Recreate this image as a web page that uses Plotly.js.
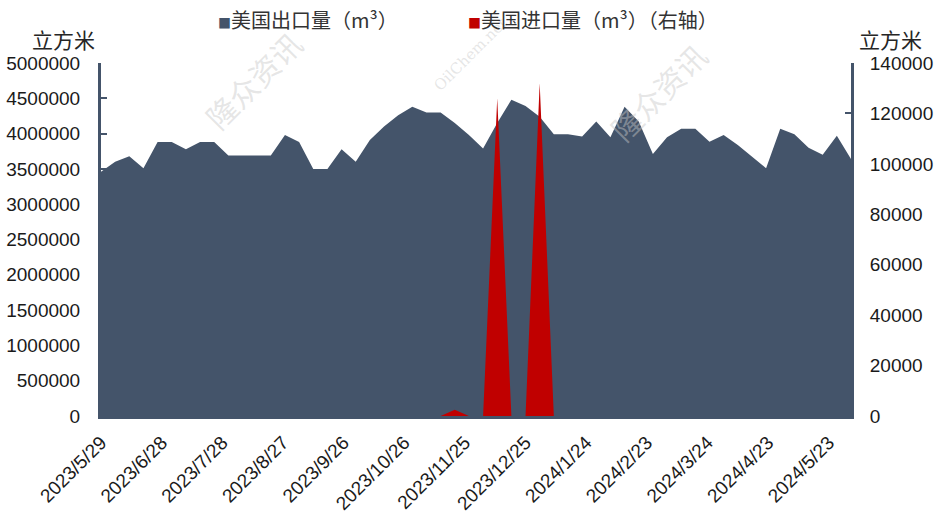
<!DOCTYPE html>
<html>
<head>
<meta charset="utf-8">
<script src="https://cdn.plot.ly/plotly-3.0.1.min.js"></script>
<style>html,body{margin:0;padding:0;background:#fff;}#chart{width:940px;height:531px;}</style>
</head>
<body>
<div id="chart"></div>
<script>
const dates = [
  "2023-05-29","2023-06-05","2023-06-12","2023-06-19","2023-06-26",
  "2023-07-03","2023-07-10","2023-07-17","2023-07-24","2023-07-31",
  "2023-08-07","2023-08-14","2023-08-21","2023-08-28",
  "2023-09-04","2023-09-11","2023-09-18","2023-09-25",
  "2023-10-02","2023-10-09","2023-10-16","2023-10-23","2023-10-30",
  "2023-11-06","2023-11-13","2023-11-20","2023-11-27",
  "2023-12-04","2023-12-11","2023-12-18","2023-12-25",
  "2024-01-01","2024-01-08","2024-01-15","2024-01-22","2024-01-29",
  "2024-02-05","2024-02-12","2024-02-19","2024-02-26",
  "2024-03-04","2024-03-11","2024-03-18","2024-03-25",
  "2024-04-01","2024-04-08","2024-04-15","2024-04-22","2024-04-29",
  "2024-05-06","2024-05-13","2024-05-20","2024-05-27","2024-06-03"
];
const usExport = [
  3460000,3600000,3680000,3510000,3880000,
  3880000,3780000,3880000,3880000,3690000,
  3690000,3690000,3690000,3980000,
  3880000,3500000,3500000,3780000,
  3600000,3910000,4100000,4260000,4380000,
  4300000,4300000,4150000,3980000,
  3790000,4150000,4480000,4390000,
  4240000,3990000,3990000,3960000,4170000,
  3950000,4380000,4170000,3710000,
  3950000,4070000,4070000,3885000,
  3980000,3840000,3670000,3510000,4070000,
  3990000,3800000,3700000,3970000,3640000
];
const usImport = [
  0,0,0,0,0,
  0,0,0,0,0,
  0,0,0,0,
  0,0,0,0,
  0,0,0,0,0,
  0,0,2500,0,
  0,126000,0,0,
  132000,0,0,0,0,
  0,0,0,0,
  0,0,0,0,
  0,0,0,0,0,
  0,0,0,0,0
];
const seriesNames = ["美国出口量（m³）", "美国进口量（m³）（右轴）"];
const unitLabel = "立方米";
const watermarkCN = "隆众资讯";
const watermarkEN = "OilChem.net";

const cSlate = "#44546A";
const cRed = "#C00000";
const numFont = "Liberation Sans, Arial, sans-serif";
const cjkFont = "Noto Sans CJK SC, sans-serif";

const traces = [
  {x: dates, y: usExport, type: "scatter", mode: "lines", fill: "tozeroy",
   line: {width: 0, color: cSlate}, fillcolor: cSlate, name: seriesNames[0], yaxis: "y", hoverinfo: "x+y"},
  {x: dates, y: usImport, type: "scatter", mode: "lines", fill: "tozeroy",
   line: {width: 0, color: cRed}, fillcolor: cRed, name: seriesNames[1], yaxis: "y2", hoverinfo: "x+y"}
];

const W = [
  {t:watermarkCN, x:253, y:80, s:30}, {t:watermarkCN, x:658, y:92, s:30},
  {t:watermarkEN, x:470, y:55, s:15}
];
const px2x = p => (p - 101) / 750;
const py2y = p => (416 - p) / 353;

const annotations = [];
W.forEach(w => annotations.push({xref:"paper", yref:"paper", x:px2x(w.x), y:py2y(w.y), xanchor:"center", yanchor:"middle",
  showarrow:false, text:w.t, textangle:-45,
  font:{family: w.s>20 ? cjkFont : "DejaVu Serif, serif", size:w.s, color:"rgba(200,200,200,0.45)"}}));
annotations.push(
  {xref:"paper", yref:"paper", x: px2x(216), y: py2y(20), xanchor:"left", yanchor:"middle", showarrow:false,
   text: '<span style="color:'+cSlate+';font-size:13px">■</span>' + seriesNames[0], font:{family:cjkFont, size:20, color:"#333333"}},
  {xref:"paper", yref:"paper", x: px2x(466), y: py2y(20), xanchor:"left", yanchor:"middle", showarrow:false,
   text: '<span style="color:'+cRed+';font-size:13px">■</span>' + seriesNames[1], font:{family:cjkFont, size:20, color:"#333333"}},
  {xref:"paper", yref:"paper", x: px2x(63), y: py2y(39), xanchor:"center", yanchor:"middle", showarrow:false,
   text: unitLabel, font:{family:cjkFont, size:21, color:"#262626"}},
  {xref:"paper", yref:"paper", x: px2x(890), y: py2y(39), xanchor:"center", yanchor:"middle", showarrow:false,
   text: unitLabel, font:{family:cjkFont, size:21, color:"#262626"}}
);

const layout = {
  width: 940, height: 531,
  margin: {l: 101, r: 89, t: 63, b: 115, pad: 0},
  paper_bgcolor: "#ffffff", plot_bgcolor: "#ffffff",
  showlegend: false,
  xaxis: {
    type: "date", range: [dates[0], dates[dates.length-1]],
    tick0: dates[0], dtick: 30*86400000, tickformat: "%Y/%-m/%-d",
    tickangle: -45, ticks: "", showgrid: false, zeroline: false,
    showline: true, linecolor: cSlate, linewidth: 3,
    tickfont: {family: numFont, size: 19, color: "#1a1a1a"}, ticklabelstandoff: 5
  },
  yaxis: {
    range: [0, 5000000], dtick: 500000, tick0: 0, tickformat: "d",
    showgrid: false, zeroline: false, showline: true, linecolor: cSlate, linewidth: 3,
    ticks: "inside", ticklen: 6, tickwidth: 2, tickcolor: cSlate,
    tickfont: {family: numFont, size: 19, color: "#1a1a1a"}, ticklabelstandoff: 14
  },
  yaxis2: {
    overlaying: "y", side: "right", range: [0, 140000], dtick: 20000, tick0: 0, tickformat: "d",
    showgrid: false, zeroline: false, showline: true, linecolor: cSlate, linewidth: 3,
    ticks: "inside", ticklen: 6, tickwidth: 2, tickcolor: cSlate,
    tickfont: {family: numFont, size: 19, color: "#1a1a1a"}, ticklabelstandoff: 12
  },
  annotations: annotations
};
Plotly.newPlot("chart", traces, layout, {staticPlot: true, displayModeBar: false});
</script>
</body>
</html>
